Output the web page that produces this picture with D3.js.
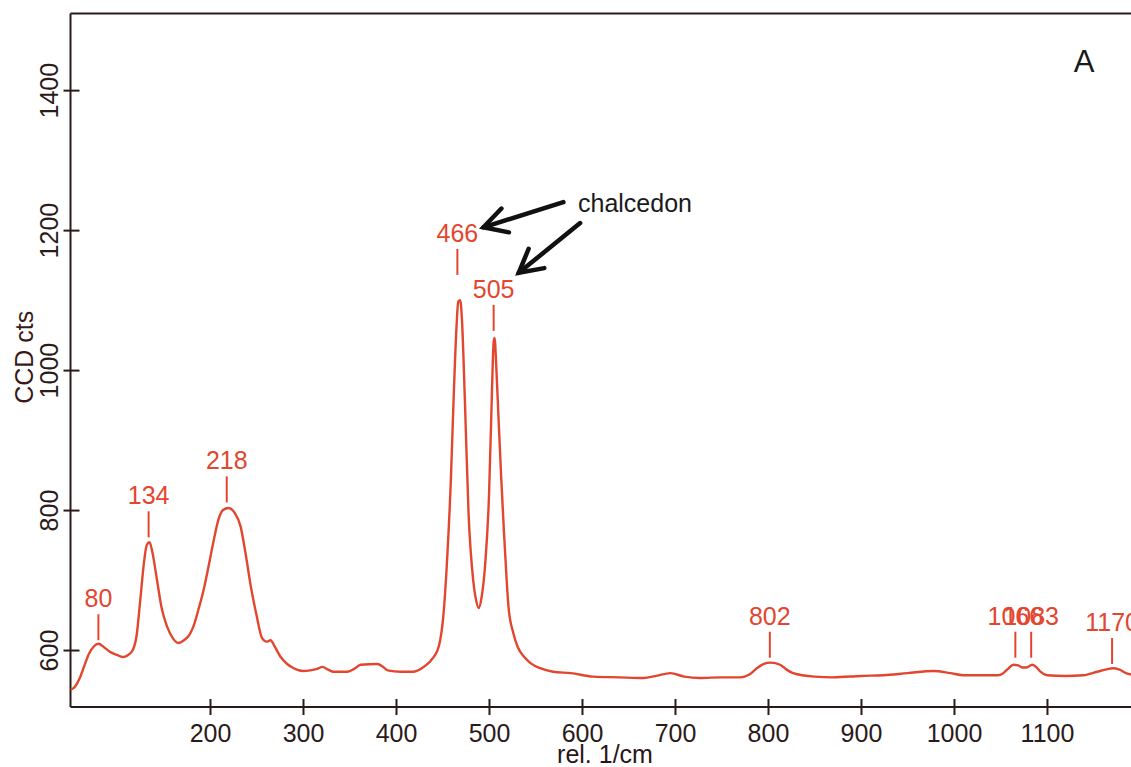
<!DOCTYPE html>
<html>
<head>
<meta charset="utf-8">
<script src="https://cdn.jsdelivr.net/npm/d3@7"></script>
<style>
  html, body { margin: 0; padding: 0; background: #fff; overflow: hidden; }
  svg { display: block; }
  text { font-family: "Liberation Sans", Arial, sans-serif; }
</style>
</head>
<body>
<script>
// Raman spectrum: wavenumber (rel. 1/cm) and CCD counts
const wavenumbers = [50, 55, 60, 65, 70, 75, 80, 86, 93, 100, 106, 112, 117, 121, 125, 129, 132, 135, 138, 143, 148, 154, 160, 166, 172, 178, 182, 188, 193, 197, 203, 209, 214, 220, 226, 233, 238, 244, 250, 256, 261, 265, 270, 276, 283, 290, 300, 308, 315, 321, 327, 333, 348, 355, 362, 380, 386, 391, 405, 419, 430, 440, 446, 451, 455, 459, 462, 465, 467, 469, 471, 474, 478, 483, 486, 489, 492, 496, 500, 503, 505, 506, 508, 510, 513, 516, 519, 521, 526, 531, 538, 545, 555, 569, 588, 612, 640, 666, 680, 695, 710, 727, 750, 770, 780, 788, 795, 803, 813, 820, 827, 850, 870, 900, 924, 950, 978, 996, 1010, 1047, 1053, 1058, 1064, 1069, 1074, 1078, 1084, 1089, 1093, 1100, 1120, 1139, 1154, 1163, 1171, 1178, 1185, 1195];
const counts = [543, 548, 560, 578, 595, 605, 609, 604, 597, 593, 590, 593, 600, 620, 671, 725, 750, 754, 740, 700, 660, 633, 617, 610, 614, 622, 633, 660, 685, 710, 750, 786, 800, 803, 797, 776, 740, 690, 650, 617, 612, 614, 604, 590, 580, 574, 570, 571, 573, 576, 572, 569, 569, 573, 579, 580, 576, 571, 569, 569, 576, 589, 605, 650, 730, 843, 960, 1060, 1098, 1100, 1070, 960, 796, 700, 672, 660, 675, 724, 820, 960, 1040, 1046, 1000, 939, 850, 771, 700, 661, 625, 604, 590, 581, 574, 569, 567, 562, 561, 560, 563, 567, 562, 560, 561, 561, 565, 574, 580, 582, 579, 572, 567, 562, 561, 563, 564, 567, 570, 567, 564, 564, 567, 573, 579, 578, 575, 575, 579, 575, 569, 564, 563, 564, 569, 572, 574, 572, 567, 564];

// Peak annotations: position, label, and count level where the marker line ends
const peakPositions = [80, 134, 218, 466, 505, 802, 1066, 1083, 1170];
const peakLabels = ["80", "134", "218", "466", "505", "802", "1066", "1083", "1170"];
const peakLevels = [614, 761, 811, 1136, 1056, 589, 589, 589, 580];

// Axis ticks
const xTicks = [200, 300, 400, 500, 600, 700, 800, 900, 1000, 1100];
const yTicks = [600, 800, 1000, 1200, 1400];

// "chalcedon" call-out arrows (start and tip in data units)
const arrowStarts = [[580, 1240], [598, 1210]];
const arrowTips = [[494, 1204], [532, 1139]];

const W = 1131, H = 767;
const plotLeft = 70.5, plotTop = 13.5, plotRight = 1133, plotBottom = 707;

const svg = d3.select("body").append("svg").attr("width", W).attr("height", H);

const x = d3.scaleLinear().domain([50, 1192.5]).range([plotLeft, plotRight]);
const y = d3.scaleLinear().domain([518.6, 1509.5]).range([plotBottom, plotTop]);

const axisColor = "#2a1a1a";
const red = "#e2462f";

// frame: top line
svg.append("line")
  .attr("x1", plotLeft).attr("x2", plotRight).attr("y1", plotTop).attr("y2", plotTop)
  .attr("stroke", axisColor).attr("stroke-width", 2);

// x axis
const xAxis = svg.append("g").attr("transform", `translate(0,${plotBottom})`)
  .call(d3.axisBottom(x).tickValues(xTicks).tickSize(8).tickPadding(9).tickFormat(d3.format("d")));
xAxis.select(".domain").remove();
xAxis.append("line").attr("x1", plotLeft).attr("x2", plotRight).attr("stroke", axisColor).attr("stroke-width", 2);
xAxis.selectAll(".tick line").attr("y1", -8).attr("y2", 8).attr("stroke", axisColor).attr("stroke-width", 2);
xAxis.selectAll(".tick text").attr("fill", axisColor).style("font-size", "25px")
  .attr("font-family", "Liberation Sans, Arial, sans-serif");

// y axis
const yAxis = svg.append("g").attr("transform", `translate(${plotLeft},0)`)
  .call(d3.axisLeft(y).tickValues(yTicks).tickSize(7).tickFormat(d3.format("d")));
yAxis.select(".domain").remove();
yAxis.append("line").attr("y1", plotTop).attr("y2", plotBottom).attr("stroke", axisColor).attr("stroke-width", 2);
yAxis.selectAll(".tick line").attr("x1", -7).attr("x2", 9).attr("stroke", axisColor).attr("stroke-width", 2);
yAxis.selectAll(".tick text")
  .attr("fill", axisColor).style("font-size", "25px")
  .attr("font-family", "Liberation Sans, Arial, sans-serif")
  .attr("x", 0).attr("y", 0).attr("dy", 0)
  .attr("text-anchor", "middle")
  .attr("transform", "translate(-13,0) rotate(-90)");

// axis titles
svg.append("text")
  .attr("transform", `translate(33,${(plotTop + plotBottom) / 2 - 3}) rotate(-90)`)
  .attr("text-anchor", "middle")
  .attr("fill", "#3a1a18").style("font-size", "25px")
  .text("CCD cts");
svg.append("text")
  .attr("x", 605).attr("y", 763)
  .attr("text-anchor", "middle")
  .attr("fill", "#2a1515").style("font-size", "25px")
  .text("rel. 1/cm");

// panel letter
svg.append("text")
  .attr("x", 1084).attr("y", 72)
  .attr("text-anchor", "middle")
  .attr("fill", "#1a1a1a").style("font-size", "31px")
  .text("A");

// spectrum
const spectrum = wavenumbers.map((w, i) => [w, counts[i]]);
svg.append("defs").append("clipPath").attr("id", "plot-clip")
  .append("rect").attr("x", plotLeft).attr("y", plotTop)
  .attr("width", plotRight - plotLeft).attr("height", plotBottom - plotTop);
svg.append("path")
  .datum(spectrum)
  .attr("clip-path", "url(#plot-clip)")
  .attr("fill", "none")
  .attr("stroke", red)
  .attr("stroke-width", 2.4)
  .attr("stroke-linejoin", "round")
  .attr("d", d3.line().x(d => x(d[0])).y(d => y(d[1])).curve(d3.curveMonotoneX));

// peak markers and labels
const peaks = svg.append("g");
peakPositions.forEach((p, i) => {
  const px = x(p), yb = y(peakLevels[i]);
  peaks.append("line")
    .attr("x1", px).attr("x2", px).attr("y1", yb).attr("y2", yb - 26)
    .attr("stroke", red).attr("stroke-width", 2);
  peaks.append("text")
    .attr("x", px).attr("y", yb - 33)
    .attr("text-anchor", "middle")
    .attr("fill", red).style("font-size", "25px")
    .text(peakLabels[i]);
});

// call-out label and arrows
svg.append("text")
  .attr("x", 578).attr("y", 212)
  .attr("fill", "#1a1a1a").style("font-size", "25px")
  .text("chalcedon");

const arrows = svg.append("g").attr("stroke", "#111").attr("stroke-width", 4.5)
  .attr("fill", "none").attr("stroke-linecap", "round").attr("stroke-linejoin", "miter");
arrowStarts.forEach((s, i) => {
  const x0 = x(s[0]), y0 = y(s[1]);
  const x1 = x(arrowTips[i][0]), y1 = y(arrowTips[i][1]);
  const ang = Math.atan2(y1 - y0, x1 - x0);
  const len = 26, spread = 0.5;
  const a1 = [x1 - len * Math.cos(ang - spread), y1 - len * Math.sin(ang - spread)];
  const a2 = [x1 - len * Math.cos(ang + spread), y1 - len * Math.sin(ang + spread)];
  arrows.append("line").attr("x1", x0).attr("y1", y0).attr("x2", x1).attr("y2", y1);
  arrows.append("path").attr("d", `M${a1[0]},${a1[1]}L${x1},${y1}L${a2[0]},${a2[1]}`);
});
</script>
</body>
</html>
